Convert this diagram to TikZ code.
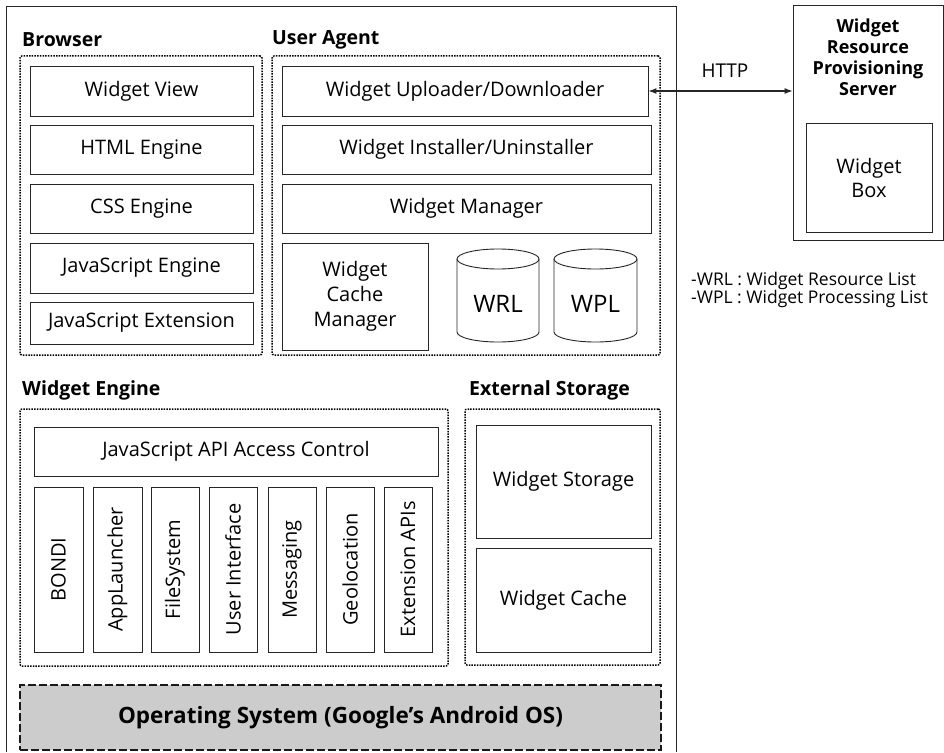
\documentclass[tikz,border=0pt]{standalone}
\usepackage{fontspec}
\setmainfont{Open Sans}
\usepackage{graphicx}
\usetikzlibrary{arrows.meta}
\tikzset{
  x=1pt, y=-1pt,
  box/.style={draw=black!85, line width=0.9pt, inner sep=0pt, align=center,
    font=\fontsize{20}{25}\selectfont},
  dotbox/.style={draw=black, line width=1.5pt, dash pattern=on 1.5pt off 1.2pt, rounded corners=2pt, inner sep=0pt},
  title/.style={anchor=west, inner sep=0pt, font=\fontsize{19.5}{23}\selectfont\bfseries},
  frame/.style={draw=black!85, line width=0.9pt},
  osbox/.style={draw=black!90, line width=1.8pt, dash pattern=on 8pt off 3pt, fill=black!20, inner sep=0pt,
    font=\fontsize{22.5}{26}\selectfont\bfseries},
  legend/.style={anchor=west, inner sep=0pt, font=\fontsize{17.5}{20}\selectfont},
  cyl/.style={draw=black!85, line width=0.9pt},
  cyltext/.style={inner sep=0pt, font=\fontsize{24}{28}\selectfont},
}
% #1 style, #2 name, #3 x1, #4 y1, #5 x2, #6 y2, #7 text
\newcommand\bx[7][]{%
  \pgfmathsetmacro\bxw{#5-#3}\pgfmathsetmacro\bxh{#6-#4}%
  \pgfmathsetmacro\bxcx{(#3+#5)/2}\pgfmathsetmacro\bxcy{(#4+#6)/2}%
  \node[box, minimum width=\bxw pt, minimum height=\bxh pt, #1] (#2) at (\bxcx,\bxcy) {#7};}
\begin{document}
\begin{tikzpicture}
\useasboundingbox (0,0) rectangle (944,752);
% outer frame
\coordinate (fbl) at (6,752);
\coordinate (ftl) at (6,6);
\coordinate (ftr) at (676,6);
\coordinate (fbr) at (676,752);
\draw[frame] (fbl) -- (ftl) -- (ftr) -- (fbr);

% Browser
\node[title] (tbrowser) at (22,40) {Browser};
\bx[dotbox]{browser}{20}{56}{262}{355}{}
\bx{wv}{30}{66}{253}{116}{Widget View}
\bx{html}{30}{125}{253}{174}{HTML Engine}
\bx{css}{30}{184}{253}{233}{CSS Engine}
\bx{jse}{30}{243}{253}{293}{JavaScript Engine}
\bx{jsx}{30}{302}{253}{344}{JavaScript Extension}

% User Agent
\node[title] (tua) at (272,40) {User Agent};
\bx[dotbox]{ua}{272}{56}{660}{355}{}
\bx{wud}{282}{66}{648}{116}{Widget Uploader/Downloader}
\bx{wiu}{282}{125}{651}{174}{Widget Installer/Uninstaller}
\bx{wm}{282}{184}{651}{233}{Widget Manager}
\bx{wcm}{282}{243}{428}{350}{Widget\\Cache\\Manager}

% cylinders
\draw[cyl] (457,259) -- (457,332) arc[start angle=180, end angle=0, x radius=41, y radius=10] -- (539,259);
\draw[cyl] (498,259) ellipse[x radius=41, y radius=10];
\node[cyltext] (wrl) at (498,304) {WRL};
\draw[cyl] (554,259) -- (554,332) arc[start angle=180, end angle=0, x radius=41.5, y radius=10] -- (637,259);
\draw[cyl] (595.5,259) ellipse[x radius=41.5, y radius=10];
\node[cyltext] (wpl) at (595.5,304) {WPL};

% Server
\bx{srv}{793}{5}{943}{240}{}
\node[inner sep=0pt, align=center, font=\fontsize{18}{21}\selectfont\bfseries] (srvt) at (868,57) {Widget\\Resource\\Provisioning\\Server};
\bx[font=\fontsize{20}{24}\selectfont]{wbox}{806}{123}{932}{232}{Widget\\Box}
\draw[line width=1.1pt, draw=black!85, {Latex[length=8pt,width=6pt]}-{Latex[length=8pt,width=6pt]}] (wud.east) -- (wud.east -| srv.west);
\node[inner sep=0pt, font=\fontsize{19}{22}\selectfont] (http) at (725,71) {HTTP};

% legend
\node[legend] (l1) at (691,281) {-WRL : Widget Resource List};
\node[legend] (l2) at (691,299) {-WPL : Widget Processing List};

% Widget Engine
\node[title] (twe) at (22,390) {Widget Engine};
\bx[dotbox]{we}{20}{409}{448}{666}{}
\bx{jsac}{34}{427}{438}{476}{JavaScript API Access Control}
\bx{bondi}{34}{487}{83}{652}{\rotatebox{90}{BONDI}}
\bx{appl}{93}{487}{142}{652}{\rotatebox{90}{AppLauncher}}
\bx{fs}{151}{487}{199}{652}{\rotatebox{90}{FileSystem}}
\bx{ui}{209}{487}{257}{652}{\rotatebox{90}{User Interface}}
\bx{msg}{268}{487}{316}{652}{\rotatebox{90}{Messaging}}
\bx{geo}{326}{487}{374}{652}{\rotatebox{90}{Geolocation}}
\bx{ext}{384}{487}{432}{652}{\rotatebox{90}{Extension APIs}}

% External Storage
\node[title] (tes) at (469,390) {External Storage};
\bx[dotbox]{es}{465}{409}{660}{665}{}
\bx{ws}{476}{425}{651}{538}{Widget Storage}
\bx{wc}{476}{548}{651}{652}{Widget Cache}

% OS
\bx[osbox]{os}{20}{685}{661}{750}{Operating System (Google's Android OS)}
\end{tikzpicture}
\end{document}
